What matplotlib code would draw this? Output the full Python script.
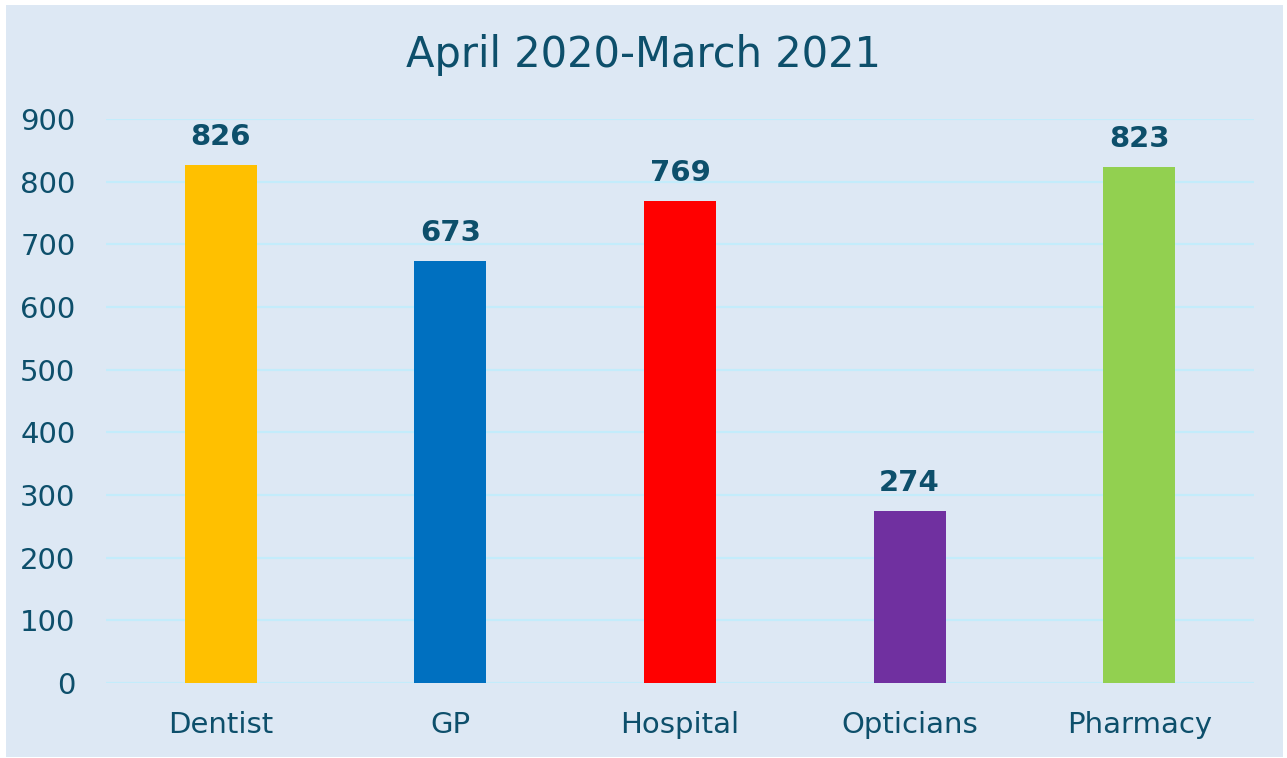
import matplotlib
matplotlib.use("Agg")
import matplotlib.pyplot as plt
from matplotlib.patches import Rectangle

categories = ["Dentist", "GP", "Hospital", "Opticians", "Pharmacy"]
values = [826, 673, 769, 274, 823]
colors = ["#FFC000", "#0070C0", "#FF0000", "#7030A0", "#92D050"]
title = "April 2020-March 2021"
yticks = [0, 100, 200, 300, 400, 500, 600, 700, 800, 900]

TEXT = "#0D4F6B"
BG = "#DDE8F4"
GRID = "#C3ECFB"

plt.rcParams['font.family'] = ['DejaVu Sans']

W, H = 1287, 758
fig = plt.figure(figsize=(W/100, H/100), dpi=100, facecolor="white")
fig.patches.append(Rectangle((6/W, 1 - 757/H), (1283-6)/W, (757-5)/H,
                             transform=fig.transFigure, facecolor=BG,
                             edgecolor="none", zorder=-10))

ax = fig.add_axes([106/W, 1 - 683/H, (1254-106)/W, (683-119)/H])
ax.set_facecolor("none")
x = list(range(len(categories)))
bars = ax.bar(x, values, width=0.314, color=colors, zorder=3)
ax.set_xlim(-0.5, len(categories) - 0.5)
ax.set_ylim(0, 900)
ax.set_yticks(yticks)
ax.set_yticklabels([str(t) for t in yticks])
ax.set_xticks(x)
ax.set_xticklabels(categories)
ax.tick_params(axis='y', length=0, pad=22, labelsize=21, labelcolor=TEXT)
ax.tick_params(axis='x', length=0, pad=20, labelsize=21, labelcolor=TEXT)
for s in ax.spines.values():
    s.set_visible(False)
ax.yaxis.grid(True, color=GRID, linewidth=1.6, zorder=0)
ax.set_axisbelow(True)

for xi, v in zip(x, values):
    ax.annotate(str(v), (xi, v), xytext=(0, 10), textcoords="offset points",
                ha="center", va="bottom", fontsize=21, fontweight="bold",
                color=TEXT)

fig.text(0.5, 1 - 55/H, title, ha="center", va="center", fontsize=30, color=TEXT)

fig.savefig("out.png", dpi=100, facecolor="white")
